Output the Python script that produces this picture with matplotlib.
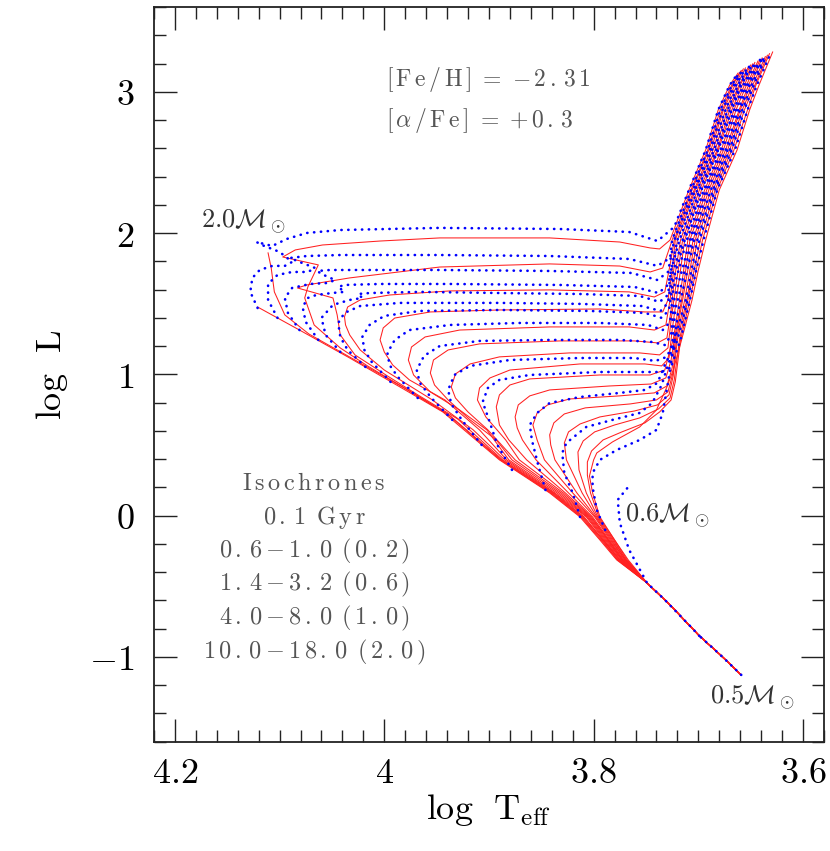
import matplotlib
matplotlib.use('Agg')
import matplotlib.pyplot as plt
from matplotlib.ticker import MultipleLocator, FuncFormatter

plt.rcParams['mathtext.fontset'] = 'cm'
plt.rcParams['font.family'] = ['DejaVu Serif']

# lower main sequence, common to every isochrone
ms_x = [3.659, 3.680, 3.699, 3.727, 3.749]
ms_y = [-1.127, -0.978, -0.851, -0.632, -0.476]

# isochrones (log Teff, log L), continuing from the common lower MS
iso_0p1_x = [3.778, 3.794, 3.813, 3.842, 3.890, 3.944, 3.985, 4.033, 4.081, 4.121]
iso_0p1_y = [-0.313, -0.172, -0.009, 0.161, 0.395, 0.734, 0.911, 1.116, 1.314, 1.477]

iso_0p6_x = [3.777, 3.793, 3.812, 3.841, 3.889, 3.941, 3.981, 4.028, 4.072, 4.095, 4.105, 4.108, 4.111]
iso_0p6_y = [-0.313, -0.172, -0.009, 0.161, 0.395, 0.727, 0.904, 1.102, 1.286, 1.421, 1.584, 1.753, 1.860]

iso_0p8_x = [3.777, 3.792, 3.811, 3.840, 3.888, 3.937, 3.976, 4.016, 4.042, 4.067, 4.076, 4.073, 4.063, 4.097,
             4.085, 4.059, 4.004, 3.947, 3.842, 3.775, 3.746, 3.737, 3.727, 3.709, 3.693, 3.681, 3.670, 3.662]
iso_0p8_y = [-0.313, -0.172, -0.009, 0.161, 0.395, 0.706, 0.883, 1.060, 1.187, 1.350, 1.541, 1.619, 1.775, 1.831,
             1.881, 1.916, 1.944, 1.966, 1.966, 1.937, 1.895, 1.888, 1.951, 2.305, 2.588, 2.872, 3.048, 3.133]

iso_1p0_x = [3.776, 3.791, 3.810, 3.839, 3.887, 3.930, 3.968, 3.997, 4.028, 4.042, 4.045, 4.049, 4.083,
             4.074, 4.033, 3.947, 3.842, 3.775, 3.746, 3.734, 3.725, 3.707, 3.691, 3.679, 3.668, 3.660]
iso_1p0_y = [-0.313, -0.172, -0.009, 0.161, 0.395, 0.685, 0.855, 0.989, 1.138, 1.279, 1.421, 1.541, 1.612,
             1.633, 1.683, 1.760, 1.782, 1.767, 1.725, 1.753, 1.951, 2.305, 2.588, 2.872, 3.048, 3.140]

iso_1p4_x = [3.775, 3.791, 3.809, 3.838, 3.885, 3.915, 3.954, 4.000, 4.023, 4.033, 4.037, 4.038, 4.035, 4.023,
             3.995, 3.937, 3.842, 3.766, 3.742, 3.732, 3.727, 3.723, 3.706, 3.690, 3.677, 3.667, 3.659]
iso_1p4_y = [-0.313, -0.172, -0.009, 0.161, 0.395, 0.607, 0.819, 1.031, 1.173, 1.279, 1.350, 1.407, 1.477, 1.527,
             1.562, 1.591, 1.598, 1.584, 1.548, 1.584, 1.775, 1.951, 2.305, 2.588, 2.872, 3.048, 3.151]

iso_2p0_x = [3.775, 3.790, 3.807, 3.837, 3.883, 3.909, 3.942, 3.976, 3.992, 4.000, 4.004, 4.001, 3.990, 3.956,
             3.890, 3.794, 3.751, 3.734, 3.729, 3.725, 3.722, 3.704, 3.688, 3.676, 3.665, 3.657]
iso_2p0_y = [-0.313, -0.172, -0.009, 0.161, 0.395, 0.607, 0.819, 0.961, 1.067, 1.159, 1.244, 1.329, 1.399, 1.442,
             1.456, 1.463, 1.442, 1.442, 1.527, 1.739, 1.951, 2.305, 2.588, 2.872, 3.048, 3.162]

iso_2p6_x = [3.774, 3.789, 3.806, 3.835, 3.881, 3.902, 3.928, 3.956, 3.972, 3.977, 3.974, 3.961, 3.928, 3.842,
             3.766, 3.742, 3.731, 3.727, 3.720, 3.703, 3.686, 3.674, 3.663, 3.655]
iso_2p6_y = [-0.313, -0.172, -0.009, 0.161, 0.395, 0.607, 0.748, 0.876, 0.996, 1.102, 1.194, 1.265, 1.314, 1.336,
             1.336, 1.314, 1.350, 1.527, 1.951, 2.305, 2.588, 2.872, 3.048, 3.169]

iso_3p2_x = [3.773, 3.788, 3.805, 3.833, 3.878, 3.893, 3.918, 3.939, 3.952, 3.956, 3.953, 3.939, 3.909, 3.832,
             3.761, 3.739, 3.730, 3.726, 3.723, 3.717, 3.701, 3.684, 3.672, 3.661, 3.652]
iso_3p2_y = [-0.313, -0.172, -0.009, 0.161, 0.395, 0.536, 0.678, 0.819, 0.925, 1.010, 1.102, 1.173, 1.216, 1.237,
             1.237, 1.223, 1.258, 1.456, 1.668, 1.951, 2.305, 2.588, 2.872, 3.048, 3.178]

iso_4p0_x = [3.773, 3.787, 3.804, 3.831, 3.875, 3.901, 3.920, 3.932, 3.936, 3.932, 3.918, 3.890, 3.823, 3.756,
             3.737, 3.729, 3.726, 3.722, 3.715, 3.699, 3.682, 3.670, 3.660, 3.650]
iso_4p0_y = [-0.313, -0.172, -0.009, 0.161, 0.395, 0.607, 0.734, 0.833, 0.911, 1.003, 1.074, 1.124, 1.152, 1.152,
             1.138, 1.187, 1.385, 1.598, 1.951, 2.305, 2.588, 2.872, 3.048, 3.190]

iso_5p0_x = [3.772, 3.786, 3.803, 3.829, 3.871, 3.884, 3.903, 3.911, 3.909, 3.899, 3.880, 3.813, 3.751, 3.735,
             3.728, 3.725, 3.721, 3.713, 3.697, 3.681, 3.668, 3.658, 3.648]
iso_5p0_y = [-0.313, -0.172, -0.009, 0.161, 0.395, 0.536, 0.699, 0.819, 0.904, 0.975, 1.031, 1.074, 1.074, 1.060,
             1.116, 1.314, 1.527, 1.951, 2.305, 2.588, 2.872, 3.048, 3.198]

iso_6p0_x = [3.772, 3.786, 3.802, 3.827, 3.864, 3.881, 3.890, 3.893, 3.890, 3.880, 3.861, 3.794, 3.746, 3.732,
             3.727, 3.724, 3.718, 3.714, 3.710, 3.694, 3.678, 3.666, 3.656, 3.646]
iso_6p0_y = [-0.313, -0.172, -0.009, 0.161, 0.395, 0.536, 0.642, 0.770, 0.855, 0.925, 0.968, 0.996, 0.996, 1.031,
             1.173, 1.244, 1.527, 1.739, 1.951, 2.305, 2.588, 2.872, 3.048, 3.208]

iso_7p0_x = [3.771, 3.785, 3.801, 3.824, 3.855, 3.868, 3.873, 3.875, 3.872, 3.861, 3.842, 3.785, 3.745, 3.731,
             3.726, 3.723, 3.716, 3.712, 3.708, 3.692, 3.676, 3.664, 3.654, 3.643]
iso_7p0_y = [-0.313, -0.172, -0.009, 0.161, 0.395, 0.536, 0.621, 0.699, 0.784, 0.848, 0.890, 0.918, 0.932, 0.975,
             1.102, 1.244, 1.527, 1.739, 1.951, 2.305, 2.588, 2.872, 3.048, 3.218]

iso_8p0_x = [3.770, 3.784, 3.799, 3.820, 3.847, 3.854, 3.858, 3.854, 3.844, 3.823, 3.775, 3.742, 3.730, 3.725,
             3.722, 3.715, 3.710, 3.705, 3.690, 3.674, 3.661, 3.652, 3.641]
iso_8p0_y = [-0.313, -0.172, -0.009, 0.161, 0.395, 0.536, 0.642, 0.727, 0.784, 0.826, 0.848, 0.869, 0.918, 1.046,
             1.244, 1.527, 1.739, 1.951, 2.305, 2.588, 2.872, 3.048, 3.228]

iso_10_x = [3.770, 3.783, 3.798, 3.816, 3.837, 3.841, 3.842, 3.838, 3.828, 3.808, 3.765, 3.740, 3.729, 3.724,
            3.721, 3.713, 3.708, 3.703, 3.688, 3.672, 3.660, 3.650, 3.639]
iso_10_y = [-0.313, -0.172, -0.009, 0.161, 0.395, 0.501, 0.572, 0.657, 0.720, 0.763, 0.791, 0.819, 0.876, 1.017,
            1.244, 1.527, 1.739, 1.951, 2.305, 2.588, 2.872, 3.048, 3.240]

iso_12_x = [3.769, 3.782, 3.797, 3.811, 3.826, 3.828, 3.824, 3.813, 3.794, 3.761, 3.739, 3.728, 3.724, 3.720,
            3.711, 3.706, 3.701, 3.686, 3.670, 3.658, 3.648, 3.636]
iso_12_y = [-0.313, -0.172, -0.009, 0.161, 0.395, 0.515, 0.593, 0.649, 0.699, 0.741, 0.784, 0.855, 0.989, 1.244,
            1.527, 1.739, 1.951, 2.305, 2.588, 2.872, 3.048, 3.249]

iso_14_x = [3.769, 3.781, 3.796, 3.807, 3.814, 3.815, 3.810, 3.799, 3.780, 3.756, 3.738, 3.727, 3.723, 3.718,
            3.710, 3.704, 3.698, 3.684, 3.668, 3.656, 3.646, 3.634]
iso_14_y = [-0.313, -0.172, -0.009, 0.161, 0.324, 0.451, 0.529, 0.593, 0.642, 0.692, 0.756, 0.833, 0.961, 1.244,
            1.527, 1.739, 1.951, 2.305, 2.588, 2.872, 3.048, 3.259]

iso_16_x = [3.768, 3.780, 3.795, 3.803, 3.806, 3.806, 3.802, 3.791, 3.773, 3.751, 3.737, 3.726, 3.722, 3.717,
            3.708, 3.702, 3.696, 3.682, 3.666, 3.653, 3.645, 3.632]
iso_16_y = [-0.313, -0.172, -0.009, 0.161, 0.288, 0.380, 0.458, 0.536, 0.593, 0.657, 0.734, 0.819, 0.947, 1.244,
            1.527, 1.739, 1.951, 2.305, 2.588, 2.872, 3.048, 3.270]

iso_18_x = [3.767, 3.780, 3.794, 3.801, 3.804, 3.800, 3.797, 3.782, 3.756, 3.740, 3.730, 3.724, 3.716, 3.706,
            3.700, 3.693, 3.680, 3.663, 3.651, 3.642, 3.629]
iso_18_y = [-0.313, -0.172, -0.009, 0.161, 0.281, 0.395, 0.444, 0.522, 0.628, 0.748, 0.911, 1.031, 1.244, 1.527,
            1.739, 1.951, 2.305, 2.588, 2.872, 3.048, 3.282]

# evolutionary tracks (log Teff, log L)
trk_2p0_x = [4.121, 4.128, 4.126, 4.119, 4.107, 4.095, 4.088, 4.100, 4.117, 4.122, 4.107, 4.093, 4.074, 4.042,
             3.947, 3.832, 3.766, 3.739, 3.723, 3.709, 3.693, 3.681, 3.670, 3.662]
trk_2p0_y = [1.470, 1.584, 1.683, 1.739, 1.768, 1.768, 1.796, 1.867, 1.916, 1.937, 1.909, 1.959, 2.001, 2.022,
             2.037, 2.029, 2.008, 1.944, 2.044, 2.305, 2.588, 2.872, 3.048, 3.133]

trk_1p8_x = [4.102, 4.111, 4.111, 4.102, 4.088, 4.073, 4.066, 4.081, 4.090, 4.074, 4.042, 3.947, 3.842, 3.766,
             3.739, 3.727, 3.725, 3.707, 3.691, 3.679, 3.668, 3.660]
trk_1p8_y = [1.400, 1.527, 1.640, 1.704, 1.725, 1.725, 1.753, 1.796, 1.824, 1.838, 1.845, 1.845, 1.838, 1.817,
             1.768, 1.824, 1.951, 2.305, 2.588, 2.872, 3.048, 3.144]

trk_1p6_x = [4.081, 4.092, 4.095, 4.088, 4.071, 4.054, 4.047, 4.060, 4.064, 4.052, 4.014, 3.947, 3.842, 3.764,
             3.739, 3.729, 3.723, 3.705, 3.689, 3.677, 3.666, 3.658]
trk_1p6_y = [1.314, 1.435, 1.541, 1.612, 1.640, 1.647, 1.668, 1.711, 1.732, 1.739, 1.739, 1.739, 1.732, 1.718,
             1.668, 1.725, 1.951, 2.305, 2.588, 2.872, 3.048, 3.155]

trk_1p5_x = [4.063, 4.075, 4.078, 4.073, 4.065, 4.050, 4.038, 4.044, 4.038, 4.004, 3.937, 3.832, 3.761, 3.738,
             3.729, 3.720, 3.703, 3.687, 3.674, 3.664, 3.655]
trk_1p5_y = [1.244, 1.371, 1.477, 1.541, 1.562, 1.576, 1.584, 1.619, 1.633, 1.640, 1.640, 1.633, 1.619, 1.576,
             1.633, 1.951, 2.305, 2.588, 2.872, 3.048, 3.165]

trk_1p4_x = [4.042, 4.056, 4.060, 4.049, 4.033, 4.021, 4.025, 4.014, 3.966, 3.890, 3.813, 3.756, 3.737, 3.729,
             3.726, 3.718, 3.701, 3.685, 3.672, 3.662, 3.653]
trk_1p4_y = [1.159, 1.279, 1.400, 1.492, 1.527, 1.541, 1.569, 1.576, 1.584, 1.576, 1.569, 1.555, 1.513, 1.562,
             1.739, 1.951, 2.305, 2.588, 2.872, 3.048, 3.175]

trk_1p3_x = [4.018, 4.035, 4.042, 4.044, 4.038, 4.023, 3.985, 3.890, 3.813, 3.754, 3.736, 3.729, 3.725, 3.715,
             3.699, 3.683, 3.670, 3.660, 3.651]
trk_1p3_y = [1.053, 1.173, 1.265, 1.364, 1.435, 1.484, 1.506, 1.506, 1.499, 1.484, 1.449, 1.506, 1.704, 1.951,
             2.305, 2.588, 2.872, 3.048, 3.185]

trk_1p2_x = [3.994, 4.012, 4.019, 4.021, 4.014, 4.000, 3.966, 3.890, 3.804, 3.751, 3.735, 3.728, 3.724, 3.713,
             3.697, 3.681, 3.668, 3.659, 3.648]
trk_1p2_y = [0.947, 1.088, 1.173, 1.265, 1.350, 1.414, 1.449, 1.456, 1.449, 1.435, 1.400, 1.456, 1.668, 1.951,
             2.305, 2.588, 2.872, 3.048, 3.196]

trk_1p1_x = [3.968, 3.987, 3.995, 3.997, 3.990, 3.976, 3.937, 3.871, 3.794, 3.748, 3.734, 3.727, 3.724, 3.711,
             3.695, 3.679, 3.666, 3.657, 3.646]
trk_1p1_y = [0.833, 0.982, 1.067, 1.152, 1.244, 1.314, 1.350, 1.364, 1.364, 1.350, 1.314, 1.371, 1.598, 1.951,
             2.305, 2.588, 2.872, 3.048, 3.206]

trk_1p0_x = [3.935, 3.955, 3.966, 3.969, 3.962, 3.947, 3.909, 3.842, 3.775, 3.745, 3.732, 3.726, 3.723, 3.708,
             3.693, 3.677, 3.664, 3.655, 3.644]
trk_1p0_y = [0.678, 0.833, 0.940, 1.031, 1.131, 1.201, 1.237, 1.244, 1.244, 1.230, 1.208, 1.279, 1.527, 1.951,
             2.305, 2.588, 2.872, 3.048, 3.217]

trk_0p95_x = [3.907, 3.926, 3.936, 3.939, 3.933, 3.918, 3.880, 3.813, 3.761, 3.741, 3.730, 3.725, 3.722, 3.706,
              3.691, 3.674, 3.662, 3.653, 3.641]
trk_0p95_y = [0.501, 0.678, 0.791, 0.890, 0.996, 1.060, 1.102, 1.116, 1.116, 1.095, 1.124, 1.208, 1.456, 1.951,
              2.305, 2.588, 2.872, 3.048, 3.227]

trk_0p9_x = [3.878, 3.892, 3.900, 3.906, 3.901, 3.890, 3.861, 3.794, 3.751, 3.735, 3.727, 3.724, 3.719, 3.704,
             3.688, 3.672, 3.660, 3.651, 3.639]
trk_0p9_y = [0.324, 0.501, 0.678, 0.805, 0.904, 0.961, 0.996, 1.017, 1.017, 1.017, 1.046, 1.173, 1.456, 1.951,
             2.305, 2.588, 2.872, 3.048, 3.237]

trk_0p85_x = [3.846, 3.853, 3.859, 3.861, 3.854, 3.842, 3.813, 3.775, 3.751, 3.739, 3.732, 3.725, 3.720, 3.712,
              3.701, 3.686, 3.670, 3.658, 3.649, 3.637]
trk_0p85_y = [0.182, 0.359, 0.536, 0.642, 0.727, 0.798, 0.840, 0.869, 0.890, 0.940, 1.067, 1.173, 1.314, 1.527,
              1.951, 2.305, 2.588, 2.872, 3.048, 3.248]

trk_0p8_x = [3.813, 3.820, 3.828, 3.830, 3.826, 3.807, 3.782, 3.756, 3.744, 3.735, 3.729, 3.720, 3.710, 3.704,
             3.699, 3.684, 3.668, 3.656, 3.647, 3.635]
trk_0p8_y = [-0.009, 0.161, 0.302, 0.444, 0.515, 0.628, 0.678, 0.727, 0.798, 0.925, 1.067, 1.244, 1.527, 1.739,
             1.951, 2.305, 2.588, 2.872, 3.048, 3.258]

trk_0p7_x = [3.789, 3.797, 3.801, 3.801, 3.794, 3.778, 3.756, 3.740, 3.734, 3.731, 3.727, 3.717, 3.708, 3.702,
             3.695, 3.682, 3.665, 3.653, 3.644, 3.631]
trk_0p7_y = [-0.101, 0.041, 0.203, 0.302, 0.395, 0.465, 0.536, 0.607, 0.727, 0.855, 1.031, 1.244, 1.527, 1.739,
             1.951, 2.305, 2.588, 2.872, 3.048, 3.271]

trk_0p6_x = [3.699, 3.708, 3.732, 3.749, 3.766, 3.775, 3.777, 3.767]
trk_0p6_y = [-0.851, -0.780, -0.596, -0.476, -0.243, -0.051, 0.112, 0.203]

trk_0p5_x = [3.659, 3.680, 3.699]
trk_0p5_y = [-1.127, -0.978, -0.851]

isochrones = [
    (iso_0p1_x, iso_0p1_y), (iso_0p6_x, iso_0p6_y), (iso_0p8_x, iso_0p8_y), (iso_1p0_x, iso_1p0_y),
    (iso_1p4_x, iso_1p4_y), (iso_2p0_x, iso_2p0_y), (iso_2p6_x, iso_2p6_y), (iso_3p2_x, iso_3p2_y),
    (iso_4p0_x, iso_4p0_y), (iso_5p0_x, iso_5p0_y), (iso_6p0_x, iso_6p0_y), (iso_7p0_x, iso_7p0_y),
    (iso_8p0_x, iso_8p0_y), (iso_10_x, iso_10_y), (iso_12_x, iso_12_y), (iso_14_x, iso_14_y),
    (iso_16_x, iso_16_y), (iso_18_x, iso_18_y),
]
tracks = [
    (trk_2p0_x, trk_2p0_y), (trk_1p8_x, trk_1p8_y), (trk_1p6_x, trk_1p6_y), (trk_1p5_x, trk_1p5_y),
    (trk_1p4_x, trk_1p4_y), (trk_1p3_x, trk_1p3_y), (trk_1p2_x, trk_1p2_y), (trk_1p1_x, trk_1p1_y),
    (trk_1p0_x, trk_1p0_y), (trk_0p95_x, trk_0p95_y), (trk_0p9_x, trk_0p9_y), (trk_0p85_x, trk_0p85_y),
    (trk_0p8_x, trk_0p8_y), (trk_0p7_x, trk_0p7_y), (trk_0p6_x, trk_0p6_y), (trk_0p5_x, trk_0p5_y),
]

age_notes = ['Isochrones', '0.1 Gyr', '0.6-1.0 (0.2)', '1.4-3.2 (0.6)', '4.0-8.0 (1.0)', '10.0-18.0 (2.0)']
chem_notes = ['[Fe/H] = -2.31', '[α/Fe] = +0.3']


def tracked(text, space=r'\ \,'):
    # the original lettering is set with a little extra letter spacing
    def dash(j):
        return text[j] == '-' and j > 0 and text[j - 1] != ' '
    out = ''
    for i, ch in enumerate(text):
        if ch == ' ':
            out += space
            continue
        if ch == 'α':
            out += r'\alpha'
        elif ch.isalpha():
            out += r'\mathrm{%s}' % ch
        elif ch in '-+' and (i == 0 or text[i - 1] == ' '):
            out += '{%s}' % ch
        else:
            out += ch
        if i + 1 < len(text) and text[i + 1] != ' ' and not dash(i) and not dash(i + 1):
            out += r'\,'
    return '$' + out + '$'


fig = plt.figure(figsize=(8.3, 8.51), dpi=100)
ax = fig.add_axes([0.1855, 0.1284, 0.8072, 0.8633])

for xs, ys in isochrones:
    ax.plot(ms_x + xs, ms_y + ys, color='#ff2020', lw=0.75, zorder=2)

for xs, ys in tracks:
    ax.plot(xs, ys, color='#0000ff', lw=1.9, linestyle=(0, (0.1, 2.5)),
            dash_capstyle='round', zorder=3)

ax.set_xlim(4.22, 3.58)
ax.set_ylim(-1.6, 3.6)

ax.xaxis.set_major_locator(MultipleLocator(0.2))
ax.xaxis.set_minor_locator(MultipleLocator(0.02))
ax.yaxis.set_major_locator(MultipleLocator(1))
ax.yaxis.set_minor_locator(MultipleLocator(0.2))
ax.xaxis.set_major_formatter(FuncFormatter(lambda v, p: '$%g$' % round(v, 2)))
ax.yaxis.set_major_formatter(FuncFormatter(lambda v, p: '$%g$' % round(v, 2)))

ax.tick_params(which='both', direction='in', top=True, right=True, width=1.0, color='#222222')
ax.tick_params(which='major', length=16.5, labelsize=26)
ax.tick_params(which='minor', length=8.5)
ax.tick_params(axis='y', which='major', pad=14)
ax.tick_params(axis='x', which='major', pad=10)
for s in ax.spines.values():
    s.set_linewidth(1.3)
    s.set_color('#222222')

ax.set_xlabel(r'$\mathrm{log\ \ T_{eff}}$', fontsize=26, labelpad=2)
ax.set_ylabel(r'$\mathrm{log\ \ L}$', fontsize=26, labelpad=14)

ax.text(3.998, 3.085, tracked(chem_notes[0], r'\ '), fontsize=17, color='#555555', ha='left', va='center')
ax.text(3.998, 2.80, tracked(chem_notes[1], r'\ '), fontsize=17, color='#555555', ha='left', va='center')

for i, note in enumerate(age_notes):
    ax.text(4.067, 0.23 - i * 0.24, tracked(note), fontsize=17.5, color='#555555',
            ha='center', va='center')

ax.text(4.134, 2.08, r'$2.0\mathcal{M}_\odot$', fontsize=19, color='#333333', ha='center', va='center')
ax.text(3.729, 0.0, r'$0.6\mathcal{M}_\odot$', fontsize=19, color='#333333', ha='center', va='center')
ax.text(3.648, -1.285, r'$0.5\mathcal{M}_\odot$', fontsize=19, color='#333333', ha='center', va='center')

fig.savefig('out.png', dpi=100)
